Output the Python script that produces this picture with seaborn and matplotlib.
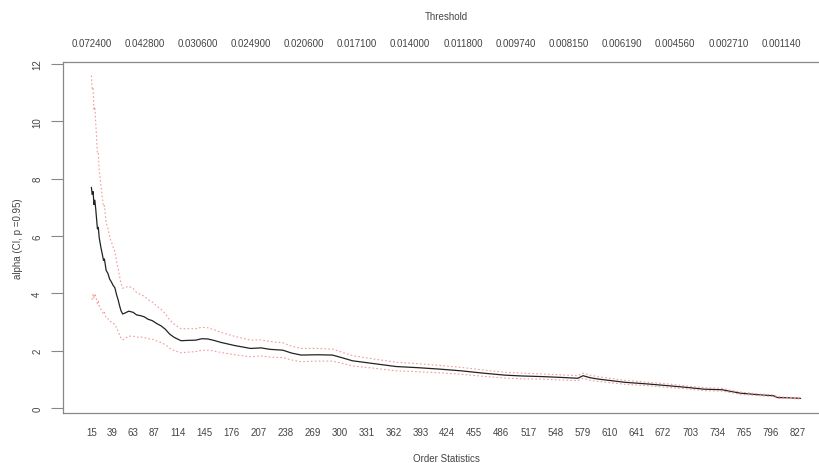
import numpy as np
import pandas as pd
import seaborn as sns
import matplotlib
matplotlib.use("Agg")
import matplotlib.pyplot as plt

# order statistics (k) and Hill estimates
order_stats = [15, 16, 17, 18, 19, 20, 21, 22, 23, 24, 26, 27, 29, 30, 32, 34, 36, 38,
               40, 42, 44, 46, 47, 49, 51, 54, 58, 63, 67, 72, 76, 80, 85, 90, 95, 100,
               105, 110, 118, 125, 135, 142, 149, 156, 164, 180, 198, 210, 220, 235, 245,
               256, 275, 292, 305, 315, 340, 365, 390, 415, 440, 465, 490, 510, 532, 555,
               574, 580, 588, 598, 628, 655, 678, 700, 719, 740, 750, 761, 780, 799, 803,
               815, 830]
alpha_hat = [7.70, 7.45, 7.55, 7.10, 7.25, 6.95, 6.60, 6.25, 6.30, 5.95, 5.60, 5.45, 5.15,
             5.20, 4.80, 4.70, 4.50, 4.40, 4.28, 4.20, 3.95, 3.75, 3.62, 3.40, 3.28, 3.32,
             3.38, 3.34, 3.25, 3.22, 3.18, 3.10, 3.05, 2.95, 2.87, 2.75, 2.58, 2.47, 2.35,
             2.36, 2.37, 2.42, 2.41, 2.36, 2.29, 2.18, 2.08, 2.10, 2.05, 2.02, 1.92, 1.85,
             1.86, 1.85, 1.74, 1.65, 1.55, 1.45, 1.41, 1.36, 1.30, 1.22, 1.15, 1.12, 1.10,
             1.07, 1.04, 1.13, 1.06, 1.01, 0.90, 0.84, 0.78, 0.72, 0.66, 0.64, 0.58, 0.52,
             0.47, 0.43, 0.37, 0.36, 0.34]
ci_upper = [11.60, 11.10, 11.14, 10.38, 10.51, 9.99, 9.42, 8.86, 8.88, 8.33, 7.75, 7.50,
            7.02, 7.06, 6.46, 6.28, 5.97, 5.80, 5.61, 5.47, 5.12, 4.83, 4.66, 4.35, 4.18,
            4.21, 4.25, 4.17, 4.03, 3.96, 3.90, 3.78, 3.70, 3.56, 3.45, 3.29, 3.07, 2.93,
            2.77, 2.77, 2.77, 2.82, 2.80, 2.73, 2.64, 2.50, 2.37, 2.38, 2.32, 2.28, 2.16,
            2.08, 2.08, 2.06, 1.93, 1.83, 1.71, 1.60, 1.55, 1.49, 1.42, 1.33, 1.25, 1.22,
            1.19, 1.16, 1.13, 1.22, 1.15, 1.09, 0.97, 0.90, 0.84, 0.77, 0.71, 0.69, 0.62,
            0.56, 0.50, 0.46, 0.40, 0.38, 0.36]
ci_lower = [3.80, 3.80, 3.96, 3.82, 3.99, 3.91, 3.78, 3.64, 3.72, 3.57, 3.45, 3.40, 3.28,
            3.34, 3.14, 3.12, 3.03, 3.00, 2.95, 2.93, 2.78, 2.67, 2.58, 2.45, 2.38, 2.43,
            2.51, 2.51, 2.47, 2.48, 2.46, 2.42, 2.40, 2.34, 2.29, 2.21, 2.09, 2.01, 1.93,
            1.95, 1.97, 2.02, 2.02, 1.99, 1.94, 1.86, 1.79, 1.82, 1.78, 1.76, 1.68, 1.62,
            1.64, 1.64, 1.55, 1.47, 1.39, 1.30, 1.27, 1.23, 1.18, 1.11, 1.05, 1.02, 1.01,
            0.98, 0.96, 1.04, 0.97, 0.93, 0.83, 0.78, 0.72, 0.67, 0.61, 0.59, 0.54, 0.48,
            0.44, 0.40, 0.34, 0.34, 0.32]

# axis labels
bottom_ticks = [15, 39, 63, 87, 114, 145, 176, 207, 238, 269, 300, 331, 362, 393, 424,
                455, 486, 517, 548, 579, 610, 641, 672, 703, 734, 765, 796, 827]
top_ticks = [15, 76, 137, 198, 259, 320, 381, 442, 503, 564, 625, 686, 747, 808]
threshold_labels = ["0.072400", "0.042800", "0.030600", "0.024900", "0.020600",
                    "0.017100", "0.014000", "0.011800", "0.009740", "0.008150",
                    "0.006190", "0.004560", "0.002710", "0.001140"]
y_ticks = [0, 2, 4, 6, 8, 10, 12]

sns.set_style("white")
plt.rcParams['font.family'] = ['Liberation Sans', 'DejaVu Sans']
plt.rcParams['font.size'] = 7
txt = '#444444'
ci_col = '#f49a9a'

fig = plt.figure(figsize=(8.19, 4.64), dpi=100)
ax = fig.add_axes([0.0769, 0.1078, 0.9353, 0.7565])

sns.lineplot(x=order_stats, y=alpha_hat, color='#222222', lw=0.9, ax=ax)
sns.lineplot(x=order_stats, y=ci_upper, color=ci_col, lw=0.8, ax=ax,
             linestyle=(0, (1.5, 2)))
sns.lineplot(x=order_stats, y=ci_lower, color=ci_col, lw=0.8, ax=ax,
             linestyle=(0, (1.5, 2)))

ax.set_xlim(-17.6, 862.6)
ax.set_ylim(-0.17, 12.07)

for s in ax.spines.values():
    s.set_color('#888888')
    s.set_linewidth(0.9)

ax.set_xticks(bottom_ticks)
ax.set_xticklabels([str(v) for v in bottom_ticks], color=txt)
ax.tick_params(axis='x', length=0, pad=10)

ax.set_yticks(y_ticks)
ax.set_yticklabels([str(v) for v in y_ticks], color=txt, rotation=90, va='center')
ax.tick_params(axis='y', left=True, length=9, width=0.8, color='#888888', pad=6)

secax = ax.secondary_xaxis('top')
secax.set_xticks(top_ticks)
secax.set_xticklabels(threshold_labels, color=txt)
secax.tick_params(length=0, pad=10)
secax.spines['top'].set_visible(False)

ax.set_xlabel('Order Statistics', color=txt)
ax.xaxis.set_label_coords(0.5, -0.114)
ax.set_ylabel('alpha (CI, p =0.95)', color=txt)
ax.yaxis.set_label_coords(-0.052, 0.5)
ax.text(0.5, 1.131, 'Threshold', transform=ax.transAxes, ha='center', va='center',
        color=txt)

fig.savefig('out.png', dpi=100)
